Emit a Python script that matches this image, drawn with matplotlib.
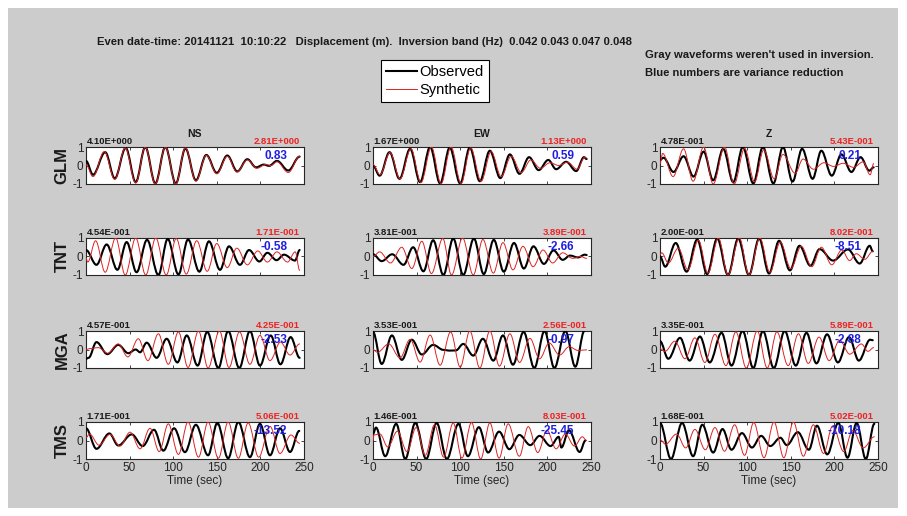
import numpy as np
import matplotlib.pyplot as plt
from matplotlib import font_manager
from matplotlib.path import Path
from matplotlib.patches import PathPatch, Rectangle
from matplotlib.lines import Line2D

# fonts
names = {f.name for f in font_manager.fontManager.ttflist}
NARROW = 'Liberation Sans Narrow' in names
narrow = 'Liberation Sans Narrow' if NARROW else 'Liberation Sans'
nscale = 1.0 if NARROW else 0.82
plt.rcParams['font.family'] = ['Liberation Sans', 'DejaVu Sans']

# Data
stations = ['GLM', 'TNT', 'MGA', 'TMS']
components = ['NS', 'EW', 'Z']
obs_max = [['4.10E+000', '1.67E+000', '4.78E-001'],
           ['4.54E-001', '3.81E-001', '2.00E-001'],
           ['4.57E-001', '3.53E-001', '3.35E-001'],
           ['1.71E-001', '1.46E-001', '1.68E-001']]
syn_max = [['2.81E+000', '1.13E+000', '5.43E-001'],
           ['1.71E-001', '3.89E-001', '8.02E-001'],
           ['4.25E-001', '2.56E-001', '5.89E-001'],
           ['5.06E-001', '8.03E-001', '5.02E-001']]
var_red = [['0.83', '0.59', '0.21'],
           ['-0.58', '-2.66', '-8.51'],
           ['-2.53', '-0.97', '-2.88'],
           ['-13.52', '-25.45', '-10.18']]
time_ticks = [0, 50, 100, 150, 200, 250]

# waveform extrema: (time s, normalised amplitude)
glm_ns_obs = [(0, 0.25), (8, -0.5), (22, 0.72), (33, -0.7), (45.5, 0.95), (57, -0.9), (68, 1.0), (79.5, -0.97),
              (91, 1.0), (103, -0.97), (114, 0.92), (126, -0.8), (138, 0.57), (150, -0.4), (162, 0.54),
              (173.5, -0.32), (185, 0.34), (195, -0.1), (204, 0.05), (210, -0.02), (219, 0.25), (232, -0.27),
              (245, 0.48)]
glm_ns_syn = [(0, 0.05), (8, -0.6), (21, 0.75), (33, -0.75), (45, 0.95), (57, -0.95), (68, 1.0), (79.5, -1.0),
              (91, 1.0), (103, -1.0), (114, 0.95), (126, -0.85), (138, 0.55), (150, -0.45), (162, 0.5),
              (173, -0.35), (185, 0.3), (196, -0.15), (206, 0.05), (212, 0.0), (219, 0.2), (232, -0.38),
              (245, 0.5)]
glm_ew_obs = [(0, 0.0), (7.6, -0.55), (19, 0.72), (30.4, -0.72), (42.6, 0.9), (54, -0.9), (65.5, 1.0),
              (77, -0.97), (88, 0.97), (100, -0.97), (111, 0.97), (122.5, -0.85), (134, 0.8), (146, -0.68),
              (157, 0.6), (168, -0.45), (179, 0.45), (190, -0.25), (201, 0.3), (210, -0.2), (221.5, 0.2),
              (233, -0.3), (242, 0.45), (245, 0.35)]
glm_ew_syn = [(0, 0.05), (8, -0.5), (19.5, 0.7), (31, -0.72), (43.5, 0.9), (55, -0.92), (67, 1.0), (78, -0.98),
              (89.5, 1.0), (101, -0.97), (112, 0.95), (124, -0.85), (135.5, 0.75), (147, -0.6), (158.5, 0.5),
              (170, -0.38), (181, 0.3), (192, -0.15), (203, 0.15), (213, 0.0), (223, 0.18), (234, -0.2),
              (243, 0.45), (245, 0.4)]
glm_z_obs = [(0, 0.3), (4, 0.42), (15.5, -0.35), (27, 0.5), (38.5, -0.6), (50, 0.75), (61, -0.8), (72.5, 0.9),
             (84, -0.9), (95, 1.0), (107, -0.97), (118, 1.0), (130, -0.97), (141, 1.0), (152, -0.87), (163, 0.9),
             (175, -0.72), (185, 0.8), (197, -0.55), (208, 0.6), (219.5, -0.35), (230, 0.45), (240, -0.28),
             (245, -0.1)]
glm_z_syn = [(0, 0.1), (3, 0.65), (15, -0.6), (27, 0.9), (38, -0.85), (50, 1.0), (61, -1.0), (74, 1.0),
             (85, -1.0), (97, 0.92), (108.5, -0.88), (119, 0.85), (131, -0.72), (141, 0.6), (155, -0.42),
             (164, 0.35), (176, -0.2), (188, 0.15), (199, -0.05), (210, 0.12), (222, -0.1), (233, 0.2),
             (241, -0.5), (245, 0.1)]
tnt_ns_obs = [(0, 0.35), (12, -0.45), (23.7, 0.65), (36, -0.72), (46.6, 0.78), (58, -0.85), (70, 0.9),
              (83, -1.0), (93.7, 0.95), (106, -0.97), (117, 0.92), (130, -0.82), (141, 0.82), (153.7, -0.72),
              (164, 0.55), (176.6, -0.45), (187, 0.35), (198.8, -0.27), (208, 0.2), (218.6, -0.2), (227, 0.1),
              (239.7, -0.22), (245, 0.35)]
tnt_ns_syn = [(0, -0.1), (2, -0.3), (11, 0.85), (22, -0.85), (34, 1.0), (45, -1.0), (57, 1.0), (68.5, -1.0),
              (80, 1.0), (92, -1.0), (103.5, 0.97), (115, -0.95), (127, 0.85), (139, -0.8), (150, 0.7),
              (162, -0.6), (173, 0.45), (185, -0.45), (197, 0.3), (208, -0.3), (219, 0.25), (231, -0.3),
              (240, 0.25), (245, -0.75)]
tnt_ew_obs = [(0, 0.12), (10, -0.25), (22, 0.12), (35, -0.45), (46, 0.5), (57.8, -0.8), (69, 0.88),
              (80.7, -1.0), (92, 0.97), (103.5, -1.0), (115.7, 0.97), (127, -0.95), (138.5, 0.9), (150, -0.82),
              (161.7, 0.73), (173, -0.65), (184, 0.55), (196, -0.4), (207, 0.33), (217.6, -0.18), (226, 0.05),
              (235, -0.05), (243, 0.1), (245, 0.08)]
tnt_ew_syn = [(0, 0.0), (7.6, 0.25), (20, -0.35), (33, 0.5), (44.5, -0.65), (56, 0.82), (67, -0.92), (80, 0.97),
              (90, -1.0), (102.7, 1.0), (115, -1.0), (126, 0.92), (138, -0.9), (149, 0.75), (160.5, -0.72),
              (172, 0.55), (183.6, -0.55), (195, 0.35), (206, -0.35), (217.6, 0.2), (229, -0.1), (238, 0.0),
              (245, -0.1)]
tnt_z_obs = [(0, 0.0), (6, -0.55), (18, 0.73), (30.5, -0.82), (42.7, 0.92), (54, -0.95), (65.6, 0.97),
             (78, -1.0), (89.7, 0.97), (102, -1.0), (113.7, 0.97), (125, -0.92), (136.6, 0.85), (149, -0.75),
             (160, 0.58), (172.5, -0.5), (183, 0.4), (198.5, -0.22), (215.6, 0.38), (229, -0.38), (240.5, 0.58),
             (244, 0.28)]
tnt_z_syn = [(0, 0.1), (2, 0.2), (9.5, -0.35), (21, 0.45), (32, -0.72), (44, 0.88), (55, -0.9), (67, 1.0),
             (78, -1.0), (91, 1.0), (102, -1.0), (114.5, 1.0), (126, -0.85), (138, 0.78), (150, -0.65),
             (162, 0.55), (174, -0.55), (185, 0.5), (197, -0.45), (208.4, 0.35), (217.5, -0.22), (225, 0.15),
             (235, -0.15), (244, 0.28)]
mga_ns_obs = [(0, -0.5), (3, -0.45), (12, 0.4), (24.5, -0.25), (37, 0.25), (48.5, -0.2), (57, 0.0), (62, -0.15),
              (69.6, 0.37), (81, -0.45), (92.5, 0.58), (104.8, -0.7), (115.5, 0.76), (128, -0.87), (139, 0.95),
              (151.8, -1.0), (163, 1.0), (175.8, -1.0), (188, 1.0), (199.5, -0.87), (211.8, 0.76), (223, -0.8),
              (234.7, 0.67), (245, -0.45)]
mga_ns_syn = [(0, 0.0), (5, 0.05), (14, 0.1), (25, -0.2), (37, 0.3), (48, -0.4), (60, 0.58), (71, -0.6),
              (83, 0.85), (94.4, -0.8), (106, 0.95), (117, -0.97), (129, 1.0), (140, -1.0), (153, 1.0),
              (164, -0.97), (176, 0.95), (188, -0.8), (199.5, 0.76), (211, -0.6), (223, 0.4), (234, -0.3),
              (245, 0.3)]
mga_ew_obs = [(0, 0.95), (10, -0.78), (21.7, 0.76), (33, -0.56), (44.5, 0.53), (56, -0.27), (69, 0.25),
              (80.7, -0.02), (88, -0.06), (95, -0.05), (103.5, 0.3), (115, -0.33), (126, 0.58), (138, -0.6),
              (149, 0.76), (160.5, -0.82), (172.7, 0.95), (185, -1.0), (196.7, 1.0), (208, -1.0), (220.6, 1.0),
              (232, -0.93), (242.4, 1.0)]
mga_ew_syn = [(0, 0.0), (5, -0.15), (18, 0.3), (31, -0.45), (42.6, 0.55), (54, -0.68), (65.5, 0.78), (77, -0.85),
              (89, 0.95), (100, -0.95), (111, 1.0), (122.5, -1.0), (134, 1.0), (145, -0.9), (157, 0.85),
              (168, -0.7), (180, 0.6), (191, -0.5), (202, 0.35), (214, -0.3), (225, 0.15), (235, -0.05),
              (245, -0.02)]
mga_z_obs = [(0, 0.45), (9.5, -0.5), (23, 0.63), (34, -0.6), (45.8, 0.7), (57, -0.7), (70.6, 0.9), (82, -0.87),
             (94.7, 1.0), (107, -1.0), (118, 1.0), (130.5, -1.0), (143, 1.0), (155.7, -0.87), (168, 0.9),
             (179.4, -0.75), (191.6, 0.82), (204, -0.7), (216.8, 0.67), (228, -0.6), (241, 0.53), (244, 0.5)]
mga_z_syn = [(0, 0.05), (5.7, -0.1), (17, 0.45), (28.6, -0.5), (40, 0.63), (51.5, -0.7), (63, 0.82),
             (75.6, -0.87), (87, 0.95), (99, -1.0), (111.5, 1.0), (123, -1.0), (134, 0.95), (147, -0.87),
             (158.8, 0.85), (170, -0.75), (182.4, 0.67), (194, -0.6), (206, 0.5), (217.6, -0.25), (231, 0.3),
             (238.5, -0.1), (245, 0.1)]
tms_ns_obs = [(0, 0.66), (12, -0.45), (26.8, 0.38), (37, -0.27), (52.4, 0.33), (65, -0.3), (78, 0.58),
              (88.7, -0.55), (101, 0.66), (113.5, -0.63), (126, 0.85), (140, -0.8), (150.6, 0.95), (163, -0.96),
              (174.7, 1.0), (188, -0.9), (199.5, 0.9), (211, -0.8), (222.5, 0.66), (234, -0.62), (244.6, 0.52)]
tms_ns_syn = [(0, 0.15), (4, 0.35), (15, -0.25), (27.5, 0.33), (39, -0.3), (50.5, 0.45), (62, -0.45),
              (73.4, 0.66), (84, -0.6), (94.4, 0.9), (106, -0.75), (117, 1.0), (129, -0.9), (140, 1.0),
              (151.8, -0.96), (163, 1.0), (174.7, -0.96), (186, 0.95), (198, -0.9), (211, 0.76), (222.5, -0.7),
              (235, 0.3), (245, -0.15)]
tms_ew_obs = [(0, 0.35), (3.4, 0.7), (14, -0.85), (26.6, 0.9), (37, -1.0), (48.5, 0.95), (61, -1.0), (73, 0.95),
              (84.7, -1.0), (98, 0.9), (108.8, -0.85), (121.4, 0.72), (132, -0.65), (144.6, 0.48), (156.4, -0.47),
              (167.8, 0.3), (180.4, -0.25), (191, 0.25), (203.6, -0.3), (213, 0.2), (216, -0.38), (224.7, 0.55),
              (237, -0.62), (243.7, 0.0)]
tms_ew_syn = [(0, 0.0), (1, 0.3), (8, 0.35), (17, -0.35), (28, 0.5), (39, -0.6), (49.5, 0.7), (60, -0.8),
              (70.5, 0.85), (81, -0.9), (92, 0.95), (102, -0.95), (113, 0.97), (123.5, -1.0), (134, 0.95),
              (144.6, -0.95), (155, 0.9), (167.8, -0.85), (178, 0.75), (189, -0.65), (199.4, 0.55), (210, -0.45),
              (220.5, 0.35), (231, -0.3), (240, 0.2), (245, 0.0)]
tms_z_obs = [(0, 0.95), (12.6, -1.0), (25.3, 0.95), (38, -0.85), (48.5, 0.85), (61, -0.65), (71.7, 0.62),
             (82, -0.5), (94, 0.4), (105.4, -0.38), (116, 0.25), (126.5, -0.3), (138, 0.15), (145.4, -0.25),
             (158, 0.45), (170.7, -0.5), (180, 0.8), (191.8, -0.75), (204.5, 0.95), (215, -0.93), (225.5, 0.95),
             (236, -1.0), (245.8, 0.9)]
tms_z_syn = [(0, 0.05), (6.3, -0.2), (19, 0.35), (29.5, -0.4), (40, 0.6), (52, -0.5), (63, 0.7), (74, -0.58),
             (85.6, 0.85), (97, -0.8), (107.5, 0.97), (119.3, -0.93), (130.7, 1.0), (142, -0.93), (153, 1.0),
             (164.4, -0.85), (175.8, 0.85), (187.6, -0.7), (198, 0.78), (210.8, -0.6), (221, 0.55), (233, -0.4),
             (245.8, 0.2)]

observed = [[glm_ns_obs, glm_ew_obs, glm_z_obs],
            [tnt_ns_obs, tnt_ew_obs, tnt_z_obs],
            [mga_ns_obs, mga_ew_obs, mga_z_obs],
            [tms_ns_obs, tms_ew_obs, tms_z_obs]]
synthetic = [[glm_ns_syn, glm_ew_syn, glm_z_syn],
             [tnt_ns_syn, tnt_ew_syn, tnt_z_syn],
             [mga_ns_syn, mga_ew_syn, mga_z_syn],
             [tms_ns_syn, tms_ew_syn, tms_z_syn]]


def draw_wave(ax, pts, color, lw, z):
    # smooth curve through the extrema, horizontal tangent at each one
    verts = [pts[0]]
    codes = [Path.MOVETO]
    for (t0, a0), (t1, a1) in zip(pts[:-1], pts[1:]):
        d = 0.36 * (t1 - t0)
        verts += [(t0 + d, a0), (t1 - d, a1), (t1, a1)]
        codes += [Path.CURVE4] * 3
    ax.add_patch(PathPatch(Path(verts, codes), fill=False, edgecolor=color, lw=lw,
                           capstyle='round', joinstyle='round', zorder=z))


# Plot
fig = plt.figure(figsize=(9.07, 5.16), dpi=100)
fig.patch.set_facecolor('white')
fig.add_artist(Rectangle((8 / 907, 8 / 516), 890 / 907, 500 / 516, transform=fig.transFigure,
                         facecolor='#cccccc', edgecolor='none', zorder=-10))

col_left = [86, 373, 660]
row_top = [147, 238, 331, 422]
w, h = 218, 37
obs_col = 'black'
syn_col = '#dd2222'

for i, st in enumerate(stations):
    for j, comp in enumerate(components):
        ax = fig.add_axes([col_left[j] / 907, 1 - (row_top[i] + h) / 516, w / 907, h / 516])
        ax.set_facecolor('white')
        draw_wave(ax, observed[i][j], obs_col, 1.5, 3)
        draw_wave(ax, synthetic[i][j], syn_col, 0.7, 4)
        ax.set_xlim(0, 250)
        ax.set_ylim(-1, 1)
        ax.set_yticks([-1, 0, 1])
        ax.set_yticklabels(['-1', '0', '1'])
        ax.set_xticks(time_ticks)
        ax.tick_params(direction='in', length=2, width=0.6, labelsize=8.5, pad=2,
                       top=True, right=True, colors='#262626')
        for s in ax.spines.values():
            s.set_linewidth(0.8)
            s.set_color('#262626')
        if i < len(stations) - 1:
            ax.set_xticklabels([])
        else:
            ax.set_xlabel('Time (sec)', fontsize=8.5, labelpad=1, color='#262626')
        ax.text(0.003, 1.02, obs_max[i][j], transform=ax.transAxes, ha='left', va='bottom',
                fontsize=6.8, fontweight='bold', color='#1a1a1a')
        ax.text(0.98, 1.02, syn_max[i][j], transform=ax.transAxes, ha='right', va='bottom',
                fontsize=6.8, fontweight='bold', color='#ee2222')
        ax.text(231, 0.5, var_red[i][j], ha='right', va='center', fontsize=8.5,
                fontweight='bold', color='#1f1fe0', zorder=6)
        if i == 0:
            ax.text(0.5, 1.34, comp, transform=ax.transAxes, ha='center', va='center',
                    fontsize=7.5, fontweight='bold', color='#1a1a1a')
        if j == 0:
            fig.text(62 / 907, 1 - (row_top[i] + h / 2) / 516, st, rotation=90, ha='center',
                     va='center', fontsize=12, fontweight='bold', color='#1a1a1a')

fig.text(97 / 907, 1 - 42 / 516,
         'Even date-time: 20141121  10:10:22   Displacement (m).  Inversion band (Hz)  0.042 0.043 0.047 0.048',
         family=narrow, fontsize=9.85 * nscale, fontweight='bold', ha='left', va='center', color='#1a1a1a')
fig.text(645 / 907, 1 - 55 / 516, "Gray waveforms weren't used in inversion.", family=narrow,
         fontsize=9.9 * nscale, fontweight='bold', ha='left', va='center', color='#1a1a1a')
fig.text(645 / 907, 1 - 73 / 516, 'Blue numbers are variance reduction', family=narrow,
         fontsize=9.9 * nscale, fontweight='bold', ha='left', va='center', color='#1a1a1a')

handles = [Line2D([], [], color=obs_col, lw=1.5), Line2D([], [], color=syn_col, lw=0.7)]
leg = fig.legend(handles, ['Observed', 'Synthetic'], loc='center', bbox_to_anchor=(435 / 907, 1 - 81 / 516),
                 frameon=True, fancybox=False, edgecolor='black', framealpha=1, handlelength=2.1,
                 handletextpad=0.15, borderpad=0.35, labelspacing=0.3, borderaxespad=0,
                 prop={'family': narrow, 'size': 13 * nscale})
leg.get_frame().set_linewidth(0.8)

fig.savefig('out.png', dpi=100)
